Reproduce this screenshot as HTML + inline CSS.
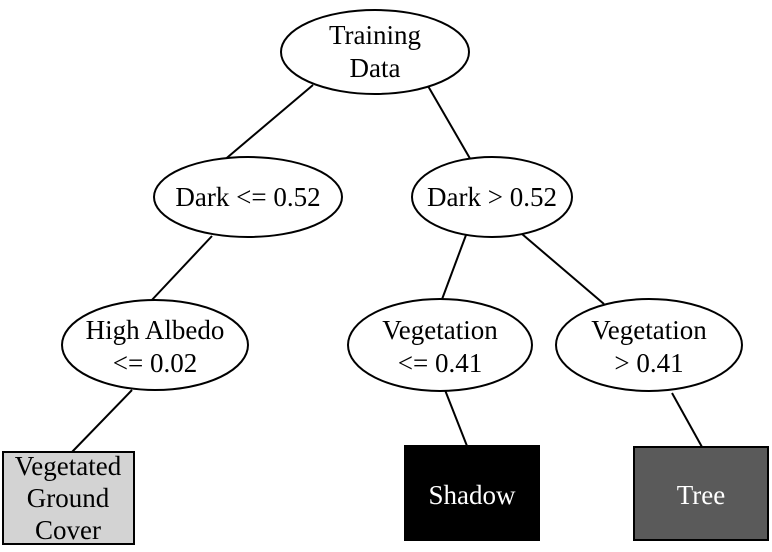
<!DOCTYPE html>
<html><head><style>
html,body{margin:0;padding:0;background:#fff;}
svg text{font-family:"Liberation Serif",serif;font-size:27px;text-anchor:middle;}
</style></head><body>
<svg width="772" height="547" viewBox="0 0 772 547" xmlns="http://www.w3.org/2000/svg">
<g stroke="#000" stroke-width="2" fill="none">
<line x1="313" y1="85" x2="222" y2="162"/>
<line x1="428" y1="86" x2="472" y2="162"/>
<line x1="212" y1="236" x2="150" y2="302"/>
<line x1="466" y1="235" x2="441" y2="302"/>
<line x1="522" y1="234" x2="604" y2="304"/>
<line x1="132" y1="390" x2="72" y2="452"/>
<line x1="445" y1="390" x2="467" y2="446"/>
<line x1="672" y1="393" x2="702" y2="447"/>
<ellipse cx="375" cy="52" rx="94" ry="42" fill="#fff"/>
<ellipse cx="248" cy="197" rx="94" ry="40" fill="#fff"/>
<ellipse cx="492" cy="197" rx="80" ry="40" fill="#fff"/>
<ellipse cx="155" cy="345" rx="93" ry="45" fill="#fff"/>
<ellipse cx="440" cy="345" rx="92" ry="46" fill="#fff"/>
<ellipse cx="649" cy="345" rx="93" ry="46" fill="#fff"/>
<rect x="3" y="452" width="131" height="92" fill="#d3d3d3"/>
<rect x="405" y="446" width="134" height="94" fill="#000"/>
<rect x="634" y="447" width="134" height="93" fill="#5a5a5a"/>
</g>
<text x="375" y="44">Training</text>
<text x="375" y="77">Data</text>
<text x="248" y="206">Dark &lt;= 0.52</text>
<text x="492" y="206">Dark &gt; 0.52</text>
<text x="155" y="339">High Albedo</text>
<text x="155" y="372">&lt;= 0.02</text>
<text x="440" y="339">Vegetation</text>
<text x="440" y="372">&lt;= 0.41</text>
<text x="649" y="339">Vegetation</text>
<text x="649" y="372">&gt; 0.41</text>
<text x="68" y="475">Vegetated</text>
<text x="68" y="507">Ground</text>
<text x="68" y="539">Cover</text>
<text x="472" y="504" fill="#fff">Shadow</text>
<text x="701" y="504" fill="#fff">Tree</text>
</svg>
</body></html>
